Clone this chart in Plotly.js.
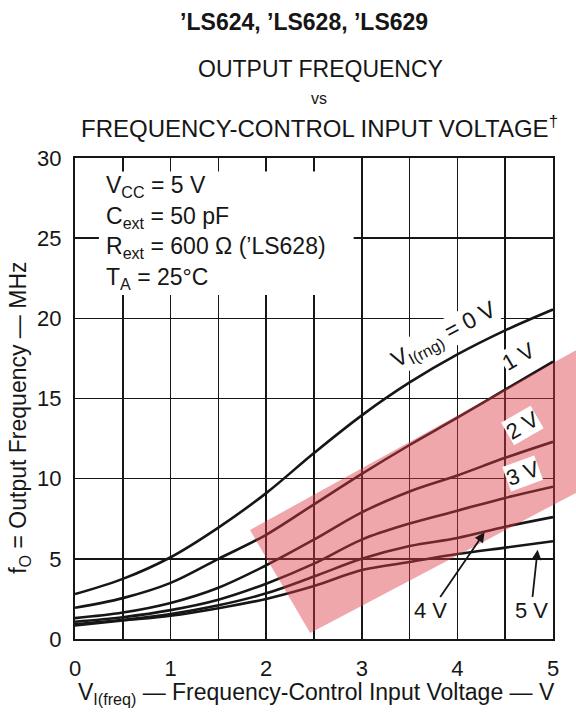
<!DOCTYPE html>
<html>
<head>
<meta charset="utf-8">
<script src="https://cdn.plot.ly/plotly-3.0.1.min.js"></script>
<style>html,body{margin:0;padding:0;background:#fff;}#chart{width:576px;height:713px;}</style>
</head>
<body>
<div id="chart"></div>
<script>
// ---- data ----
const vFreq = [0, 0.5, 1, 1.5, 2, 2.5, 3, 3.5, 4, 4.5, 5];
const fRng0 = [2.8, 3.75, 5.1, 6.95, 9.1, 11.6, 13.95, 16.0, 17.75, 19.25, 20.55];
const fRng1 = [1.95, 2.55, 3.5, 5.0, 6.5, 8.4, 10.3, 12.1, 13.8, 15.55, 17.3];
const fRng2 = [1.3, 1.65, 2.25, 3.2, 4.6, 6.2, 7.9, 9.2, 10.2, 11.3, 12.3];
const fRng3 = [1.08, 1.36, 1.8, 2.45, 3.45, 4.7, 6.2, 7.2, 8.0, 8.8, 9.5];
const fRng4 = [0.92, 1.2, 1.56, 2.1, 2.85, 3.9, 5.0, 5.8, 6.3, 7.0, 7.6];
const fRng5 = [0.85, 1.15, 1.45, 1.92, 2.5, 3.3, 4.3, 4.8, 5.3, 5.7, 6.1];
const seriesNames = ["V<sub>I(rng)</sub> = 0 V", "1 V", "2 V", "3 V", "4 V", "5 V"];
const xTickVals = [0, 1, 2, 3, 4, 5];
const yTickVals = [0, 5, 10, 15, 20, 25, 30];
const conditions = ["V<sub>CC</sub> = 5 V", "C<sub>ext</sub> = 50 pF", "R<sub>ext</sub> = 600 Ω (’LS628)", "T<sub>A</sub> = 25°C"];

const FONT = "Liberation Sans, Arial, Helvetica, sans-serif";
const INK = "#161616";
const all = [fRng0, fRng1, fRng2, fRng3, fRng4, fRng5];

function interp(xs, ys, x) {
  for (let i = 0; i < xs.length - 1; i++) {
    if (x >= xs[i] && x <= xs[i + 1]) {
      const t = (x - xs[i]) / (xs[i + 1] - xs[i]);
      return ys[i] + t * (ys[i + 1] - ys[i]);
    }
  }
  return ys[ys.length - 1];
}

const traces = all.map((ys, i) => ({
  x: vFreq, y: ys, type: "scatter", mode: "lines",
  name: seriesNames[i],
  line: {color: INK, width: 2.6, shape: "spline", smoothing: 1.0},
  hoverinfo: "skip", showlegend: false
}));

const annotations = [];
// title lines 2-4
annotations.push({xref: "paper", yref: "paper", x: 0.513, y: 1.185, text: "OUTPUT FREQUENCY",
  showarrow: false, font: {family: FONT, size: 23, color: INK}, xanchor: "center", yanchor: "middle"});
annotations.push({xref: "paper", yref: "paper", x: 0.51, y: 1.124, text: "vs",
  showarrow: false, font: {family: FONT, size: 16, color: INK}, xanchor: "center", yanchor: "middle"});
annotations.push({xref: "paper", yref: "paper", x: 0.512, y: 1.064, text: "FREQUENCY-CONTROL INPUT VOLTAGE<sup>†</sup>",
  showarrow: false, font: {family: FONT, size: 24, color: INK}, xanchor: "center", yanchor: "middle"});
// conditions box lines
conditions.forEach((t, i) => {
  annotations.push({xref: "paper", yref: "paper", x: 0.06, y: 0.94 - i * 0.0635, text: t,
    showarrow: false, font: {family: FONT, size: 23, color: INK}, xanchor: "left", yanchor: "middle"});
});
// curve labels
annotations.push({x: 3.86, y: 18.9, text: seriesNames[0], showarrow: false, textangle: -28,
  font: {family: FONT, size: 23, color: INK}, bgcolor: "#fff", borderpad: 0});
annotations.push({x: 4.64, y: 17.6, text: seriesNames[1], showarrow: false, textangle: -30,
  font: {family: FONT, size: 22, color: INK}, bgcolor: "#fff", borderpad: 0});
annotations.push({x: 4.68, y: 13.3, text: seriesNames[2], showarrow: false, textangle: -30,
  font: {family: FONT, size: 22, color: INK}, bgcolor: "#fff", borderpad: 0});
annotations.push({x: 4.68, y: 10.35, text: seriesNames[3], showarrow: false, textangle: -20,
  font: {family: FONT, size: 22, color: INK}, bgcolor: "#fff", borderpad: 0});
// 4 V and 5 V with arrows
const x4 = 4.29, x5 = 4.84;
annotations.push({x: x4, y: interp(vFreq, fRng4, x4), axref: "x", ayref: "y", ax: 3.72, ay: 1.75,
  text: seriesNames[4], showarrow: true, arrowhead: 2, arrowsize: 1.1, arrowwidth: 1.8, arrowcolor: INK,
  standoff: 1, font: {family: FONT, size: 22, color: INK}, bgcolor: "#fff", borderpad: 1});
annotations.push({x: x5, y: interp(vFreq, fRng5, x5) - 0.35, axref: "x", ayref: "y", ax: 4.77, ay: 1.75,
  text: seriesNames[5], showarrow: true, arrowhead: 2, arrowsize: 1.1, arrowwidth: 1.8, arrowcolor: INK,
  standoff: 1, font: {family: FONT, size: 22, color: INK}, bgcolor: "#fff", borderpad: 1});
// axis titles
annotations.push({xref: "paper", yref: "paper", x: 0.505, y: -0.113,
  text: "V<sub>I(freq)</sub> — Frequency-Control Input Voltage — V", showarrow: false,
  font: {family: FONT, size: 23, color: INK}, xanchor: "center", yanchor: "middle"});
annotations.push({xref: "paper", yref: "paper", x: -0.115, y: 0.46, textangle: -90,
  text: "f<sub>O</sub> = Output Frequency — MHz", showarrow: false,
  font: {family: FONT, size: 23, color: INK}, xanchor: "center", yanchor: "middle"});

const shapes = [
  // watermark band
  {type: "path", xref: "paper", yref: "paper", layer: "above",
   path: "M 0.366 0.2266 L 1.06 0.607 L 1.06 0.31 L 0.492 0.0125 Z",
   fillcolor: "rgba(222,60,72,0.45)", line: {width: 0}},
  // white box behind conditions
  {type: "rect", xref: "paper", yref: "paper", layer: "above",
   x0: 0.05, x1: 0.583, y0: 0.715, y1: 0.972, fillcolor: "#fff", line: {width: 0}}
];

const layout = {
  width: 576, height: 713,
  margin: {l: 75, r: 23, t: 158, b: 74},
  paper_bgcolor: "#fff", plot_bgcolor: "#fff",
  font: {family: FONT, color: INK},
  title: {text: "<b>’LS624, ’LS628, ’LS629</b>", font: {family: FONT, size: 23, color: INK},
    x: 0.528, xref: "container", xanchor: "center", y: 1 - 22 / 713, yref: "container", yanchor: "middle"},
  xaxis: {range: [0, 5], tickvals: xTickVals, ticktext: xTickVals.map(String),
    showgrid: true, gridcolor: INK, gridwidth: 1.6,
    minor: {dtick: 0.5, tick0: 0, showgrid: true, gridcolor: INK, gridwidth: 1.6},
    showline: true, mirror: true, linecolor: INK, linewidth: 2.2,
    ticks: "", tickfont: {family: FONT, size: 22, color: INK}, ticklabelstandoff: 8,
    zeroline: false, fixedrange: true},
  yaxis: {range: [0, 30], tickvals: yTickVals, ticktext: yTickVals.map(String),
    showgrid: true, gridcolor: INK, gridwidth: 1.6,
    showline: true, mirror: true, linecolor: INK, linewidth: 2.2,
    ticks: "", tickfont: {family: FONT, size: 22, color: INK}, ticklabelstandoff: 7,
    zeroline: false, fixedrange: true},
  annotations: annotations,
  shapes: shapes,
  showlegend: false
};

Plotly.newPlot("chart", traces, layout, {displayModeBar: false, staticPlot: true});
</script>
</body>
</html>
